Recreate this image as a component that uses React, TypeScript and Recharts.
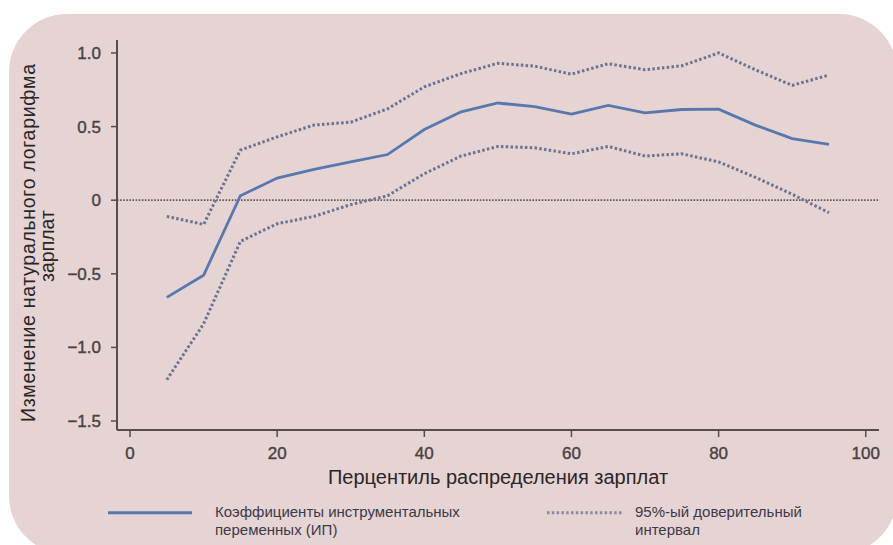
import React from 'react';
import { LineChart, Line, XAxis, YAxis, ReferenceLine, Legend } from 'recharts';

const percentiles = [5, 10, 15, 20, 25, 30, 35, 40, 45, 50, 55, 60, 65, 70, 75, 80, 85, 90, 95];
const coefIV = [-0.66, -0.51, 0.03, 0.15, 0.21, 0.26, 0.31, 0.48, 0.60, 0.66, 0.635, 0.585, 0.644, 0.593, 0.616, 0.618, 0.51, 0.418, 0.379];
const upperCI = [-0.11, -0.165, 0.34, 0.43, 0.51, 0.53, 0.62, 0.77, 0.86, 0.93, 0.91, 0.856, 0.927, 0.886, 0.913, 1.0, 0.886, 0.78, 0.85];
const lowerCI = [-1.22, -0.84, -0.28, -0.16, -0.11, -0.03, 0.03, 0.18, 0.30, 0.365, 0.356, 0.315, 0.365, 0.30, 0.315, 0.26, 0.155, 0.04, -0.085];

const xTicks = [0, 20, 40, 60, 80, 100];
const yTicks = [-1.5, -1.0, -0.5, 0, 0.5, 1.0];

const xTitle = 'Перцентиль распределения зарплат';
const yTitleLine1 = 'Изменение натурального логарифма';
const yTitleLine2 = 'зарплат';
const legendCoef = ['Коэффициенты инструментальных', 'переменных (ИП)'];
const legendCI = ['95%-ый доверительный', 'интервал'];

const data = percentiles.map((p, i) => ({ p, coef: coefIV[i], upper: upperCI[i], lower: lowerCI[i] }));

const FONT = '"Liberation Sans", Arial, sans-serif';
const MAIN = '#5878ad';
const DOT = '#6a7390';
const TICK = '#4a4242';

const fmtY = (v: number) => (v === 0 ? '0' : (v < 0 ? '\u2212' : '') + Math.abs(v).toFixed(1));

const XTitle = (props: any) => {
  const vb = props.viewBox || {};
  const cx = vb.x + vb.width / 2;
  return (
    <text x={cx} y={484} textAnchor="middle" fontFamily={FONT} fontSize={20} fill="#2b2626">
      {xTitle}
    </text>
  );
};

const YTitle = () => {
  const cy = 243;
  return (
    <g fontFamily={FONT} fontSize={19.5} fill="#2b2626">
      <text x={35} y={cy} textAnchor="middle" textLength={358} lengthAdjust="spacing" transform={`rotate(-90 35 ${cy})`}>{yTitleLine1}</text>
      <text x={54} y={cy + 3} textAnchor="middle" transform={`rotate(-90 54 ${cy + 3})`}>{yTitleLine2}</text>
    </g>
  );
};

const LegendContent = () => (
  <svg width={790} height={50} style={{ display: 'block', overflow: 'visible' }}>
    <line x1={8} x2={92} y1={17.7} y2={17.7} stroke={MAIN} strokeWidth={3} />
    <text x={115} y={21.5} fontFamily={FONT} fontSize={15} fill="#3a3a48">{legendCoef[0]}</text>
    <text x={115} y={40} fontFamily={FONT} fontSize={15} fill="#3a3a48">{legendCoef[1]}</text>
    <line x1={447} x2={522} y1={17.7} y2={17.7} stroke={DOT} strokeWidth={3} strokeDasharray="2.5 2.3" opacity={0.75} />
    <text x={535} y={21.5} fontFamily={FONT} fontSize={15} fill="#3a3a48">{legendCI[0]}</text>
    <text x={535} y={40} fontFamily={FONT} fontSize={15} fill="#3a3a48">{legendCI[1]}</text>
  </svg>
);

export default function App() {
  return (
    <div style={{ position: 'absolute', left: 0, top: 0, width: 893, height: 545, background: '#fff', overflow: 'hidden' }}>
      <div style={{ position: 'absolute', left: 9, top: 14, width: 888, height: 540, background: '#e6d3d3', borderRadius: 58 }} />
      <div style={{ position: 'absolute', left: 0, top: 0 }}>
        <LineChart width={893} height={545} data={data} margin={{ top: 40, right: 14, bottom: 55, left: 57 }}>
          <XAxis
            dataKey="p"
            type="number"
            domain={[-1.77, 101.8]}
            ticks={xTicks}
            allowDataOverflow
            height={60}
            stroke="#5b4c4c"
            strokeWidth={2}
            tickSize={7}
            tickMargin={10}
            tickLine={{ stroke: '#5b4c4c', strokeWidth: 1.5 }}
            tick={{ fontFamily: FONT, fontSize: 17, fill: TICK, stroke: TICK, strokeWidth: 0.4 }}
            label={<XTitle />}
          />
          <YAxis
            type="number"
            domain={[-1.561, 1.088]}
            ticks={yTicks}
            allowDataOverflow
            width={60}
            stroke="#5b4c4c"
            strokeWidth={2}
            tickSize={6}
            tickMargin={10}
            tickLine={{ stroke: '#5b4c4c', strokeWidth: 1.5 }}
            tickFormatter={fmtY}
            tick={{ fontFamily: FONT, fontSize: 17, fill: TICK, stroke: TICK, strokeWidth: 0.4 }}
            label={<YTitle />}
          />
          <ReferenceLine y={0} stroke="#655656" strokeWidth={1.8} strokeDasharray="1.6 1.5" />
          <Line dataKey="upper" type="linear" stroke={DOT} strokeWidth={3} strokeDasharray="2.5 2.3" dot={false} isAnimationActive={false} />
          <Line dataKey="lower" type="linear" stroke={DOT} strokeWidth={3} strokeDasharray="2.5 2.3" dot={false} isAnimationActive={false} />
          <Line dataKey="coef" type="linear" stroke={MAIN} strokeWidth={2.8} dot={false} isAnimationActive={false} />
          <Legend
            verticalAlign="middle"
            align="center"
            layout="horizontal"
            content={<LegendContent />}
            wrapperStyle={{ position: 'absolute', left: 100, top: 495, width: 790, height: 50 }}
          />
        </LineChart>
      </div>
    </div>
  );
}
